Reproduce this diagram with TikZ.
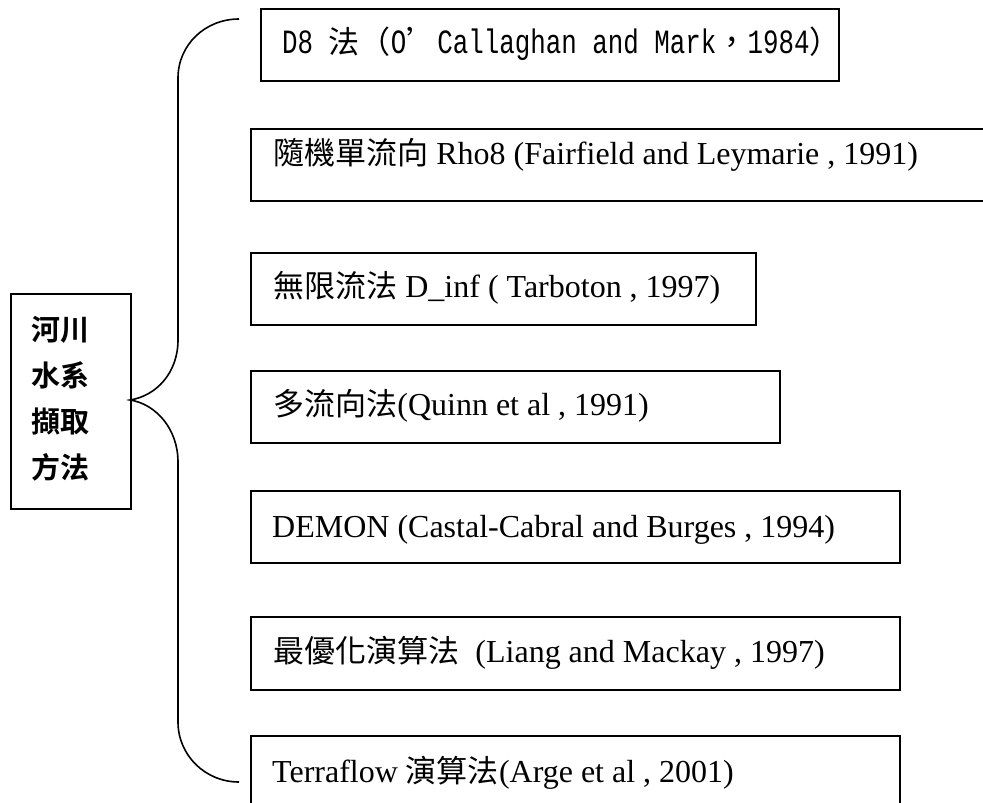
\documentclass[tikz,border=0pt]{standalone}
\usepackage{fontspec}
\setmainfont{Liberation Serif}
\newfontfamily\cjk{Noto Sans CJK TC}[Scale=0.97]
\newfontfamily\cjkb{Noto Sans CJK TC Bold}
\newfontfamily\mingl{Liberation Mono}[FakeStretch=0.76]
\begin{document}
\begin{tikzpicture}[x=1pt,y=-1pt]
\tikzset{
  itembox/.style={draw, line width=1.6pt, inner sep=0pt, anchor=north west, rectangle},
  itemtext/.style={inner sep=0pt, anchor=base west, font=\fontsize{32}{38}\selectfont},
  titletext/.style={inner sep=0pt, anchor=base west, font=\fontsize{29}{34}\selectfont\cjkb},
  brace/.style={draw, line width=1.6pt}
}
\clip (0,0) rectangle (983,803);
% left box
\node[itembox, minimum width=120pt, minimum height=215pt] (lb) at (10,293) {};
\node[titletext] (lt1) at (31,340) {河川};
\node[titletext] (lt2) at (31,386) {水系};
\node[titletext] (lt3) at (31,432) {擷取};
\node[titletext] (lt4) at (31,478) {方法};
% item boxes
\node[itembox, minimum width=578pt, minimum height=72pt] (b1) at (260,8) {};
\node[itembox, minimum width=760pt, minimum height=72pt] (b2) at (250,128) {};
\node[itembox, minimum width=505pt, minimum height=72pt] (b3) at (250,252) {};
\node[itembox, minimum width=529pt, minimum height=72pt] (b4) at (250,370) {};
\node[itembox, minimum width=649pt, minimum height=72pt] (b5) at (250,490) {};
\node[itembox, minimum width=649pt, minimum height=73pt] (b6) at (250,616) {};
\node[itembox, minimum width=649pt, minimum height=100pt] (b7) at (250,735) {};
% texts
\node[itemtext] (t1) at (282,53) {\mingl\fontsize{34}{40}\selectfont D8 {\cjk\fontsize{32}{38}\selectfont 法（}O{\cjk\fontsize{32}{38}\selectfont ’}Callaghan and Mark{\cjk\fontsize{32}{38}\selectfont ，}1984{\cjk\fontsize{32}{38}\selectfont ）}};
\node[itemtext] (t2) at (273,164) {{\cjk 隨機單流向} Rho8 (Fairfield and Leymarie , 1991)};
\node[itemtext] (t3) at (273,297) {{\cjk 無限流法} D\_inf ( Tarboton , 1997)};
\node[itemtext] (t4) at (273,415) {{\cjk 多流向法}(Quinn et al , 1991)};
\node[itemtext] (t5) at (272,537) {DEMON (Castal-Cabral and Burges , 1994)};
\node[itemtext] (t6) at (273,662) {{\cjk 最優化演算法}\ \ (Liang and Mackay , 1997)};
\node[itemtext] (t7) at (272,782) {Terraflow {\cjk 演算法}(Arge et al , 2001)};
% brace
\coordinate (c0) at (239,19);
\coordinate (c1) at (178,78);
\coordinate (c2) at (178,340);
\coordinate (tip) at (130,400);
\coordinate (c3) at (178,462);
\coordinate (c4) at (178,722);
\coordinate (c5) at (239,782);
\draw[brace] (c0) .. controls (205,19) and (178,45) .. (c1) -- (c2)
  .. controls (178,373) and (156,396) .. (tip)
  .. controls (156,404) and (178,429) .. (c3) -- (c4)
  .. controls (178,755) and (205,782) .. (c5);
\end{tikzpicture}
\end{document}
